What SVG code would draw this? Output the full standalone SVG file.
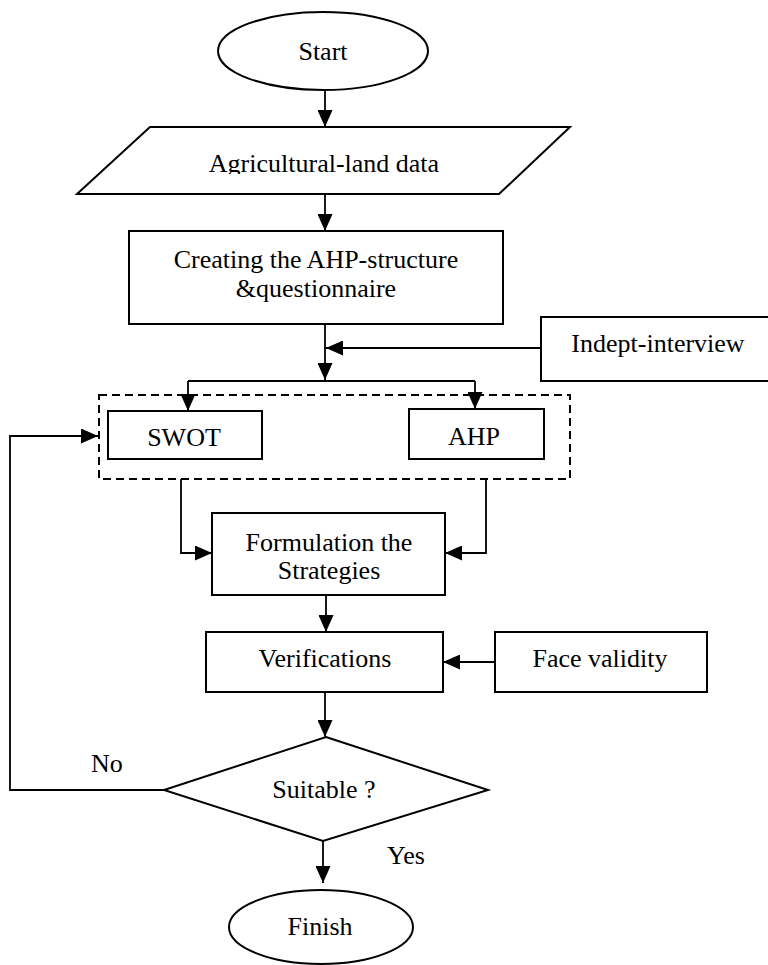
<svg xmlns="http://www.w3.org/2000/svg" width="768" height="965" viewBox="0 0 768 965">
<style>
  .shape { fill: #fff; stroke: #000; stroke-width: 2; }
  .dash { fill: none; stroke: #000; stroke-width: 2; stroke-dasharray: 8 5; }
  .conn { fill: none; stroke: #000; stroke-width: 1.8; }
  text { font-family: "Liberation Serif", "Times New Roman", serif; font-size: 26px; fill: #000; text-anchor: middle; }
  .lbl { text-anchor: start; }
</style>
<defs>
  <marker id="arr" markerUnits="userSpaceOnUse" markerWidth="17" markerHeight="15" refX="17" refY="7.5" orient="auto">
    <path d="M0,0 L17,7.5 L0,15 z" fill="#000"/>
  </marker>
  <clipPath id="agriClip"><rect x="0" y="100" width="768" height="74"/></clipPath>
</defs>

<g id="connectors">
  <path class="conn" d="M325,90 V127" marker-end="url(#arr)"/>
  <path class="conn" d="M325,194 V231" marker-end="url(#arr)"/>
  <path class="conn" d="M325,324 V380" marker-end="url(#arr)"/>
  <path class="conn" d="M542,348 H326" marker-end="url(#arr)"/>
  <path class="conn" d="M188,381 H475"/>
  <path class="conn" d="M188,381 V411" marker-end="url(#arr)"/>
  <path class="conn" d="M475,381 V409" marker-end="url(#arr)"/>
  <path class="conn" d="M181,479 V553 H212" marker-end="url(#arr)"/>
  <path class="conn" d="M486,479 V553 H445" marker-end="url(#arr)"/>
  <path class="conn" d="M326,595 V632" marker-end="url(#arr)"/>
  <path class="conn" d="M495,662 H443" marker-end="url(#arr)"/>
  <path class="conn" d="M325,692 V737" marker-end="url(#arr)"/>
  <path class="conn" d="M323,841 V883" marker-end="url(#arr)"/>
  <path class="conn" d="M164,790 H10 V436 H98" marker-end="url(#arr)"/>
</g>

<g id="start">
  <ellipse class="shape" cx="323" cy="51" rx="105" ry="39" stroke-width="1.6"/>
  <text x="323" y="60">Start</text>
</g>

<g id="agri-data">
  <polygon class="shape" points="150,127 570,127 499,194 77,194"/>
  <text x="324" y="172" clip-path="url(#agriClip)">Agricultural-land data</text>
</g>

<g id="creating">
  <rect class="shape" x="129" y="231" width="374" height="93"/>
  <text x="316" y="268">Creating the AHP-structure</text>
  <text x="316" y="297">&amp;questionnaire</text>
</g>

<g id="indept">
  <rect class="shape" x="541" y="317" width="240" height="64"/>
  <text x="658" y="352">Indept-interview</text>
</g>

<g id="group-box">
  <rect class="dash" x="99" y="395" width="471" height="84"/>
</g>

<g id="swot">
  <rect class="shape" x="108" y="411" width="154" height="48"/>
  <text x="184" y="446">SWOT</text>
</g>

<g id="ahp">
  <rect class="shape" x="409" y="409" width="135" height="50"/>
  <text x="474" y="445">AHP</text>
</g>

<g id="formulation">
  <rect class="shape" x="212" y="513" width="233" height="82"/>
  <text x="329" y="551">Formulation the</text>
  <text x="329" y="579">Strategies</text>
</g>

<g id="verifications">
  <rect class="shape" x="206" y="632" width="237" height="60"/>
  <text x="325" y="667">Verifications</text>
</g>

<g id="face-validity">
  <rect class="shape" x="495" y="632" width="212" height="60"/>
  <text x="600" y="667">Face validity</text>
</g>

<g id="suitable">
  <polygon class="shape" points="326,737 488,790 323,841 164,790" stroke-width="1.8"/>
  <text x="324" y="798">Suitable ?</text>
</g>

<g id="labels">
  <text class="lbl" x="91" y="772">No</text>
  <text class="lbl" x="387" y="864">Yes</text>
</g>

<g id="finish">
  <ellipse class="shape" cx="321" cy="927" rx="92" ry="37" stroke-width="1.6"/>
  <text x="320" y="935">Finish</text>
</g>
</svg>
